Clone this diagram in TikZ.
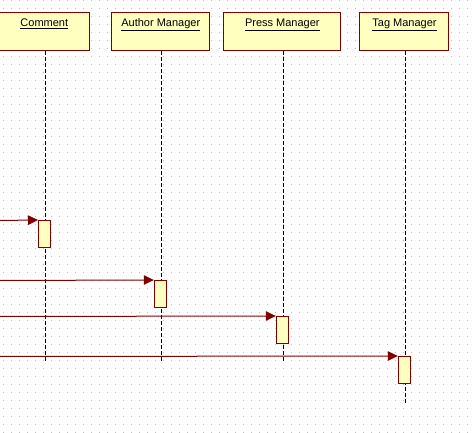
\documentclass[tikz,border=0pt]{standalone}
\usepackage{fontspec}
\setmainfont{Liberation Sans}
\usetikzlibrary{arrows.meta}
\definecolor{umlred}{RGB}{128,0,0}
\definecolor{umlfill}{RGB}{255,255,192}
\definecolor{griddot}{RGB}{192,192,192}
\begin{document}
\begin{tikzpicture}[x=1pt,y=-1pt,
  objbox/.style={draw=umlred, fill=umlfill, line width=1pt, inner sep=0pt, minimum height=38pt},
  actbox/.style={draw=umlred, fill=umlfill, line width=1pt, inner sep=0pt, minimum width=12pt, minimum height=27pt},
  objlabel/.style={font=\fontsize{11}{13}\selectfont, anchor=base, inner sep=0pt},
  lifeline/.style={black, line width=1pt, dash pattern=on 4pt off 2pt},
  msg/.style={umlred, line width=1pt, -{Triangle[length=10pt,width=9.5pt]}}]
\useasboundingbox (0,0) rectangle (475,433);
\clip (0,0) rectangle (475,433);
\fill[white] (0,0) rectangle (475,433);
\foreach \i in {0,...,58} {\foreach \j in {0,...,54} {\fill[griddot] (3+8*\i, 8*\j) rectangle ++(1,1);}}
% object boxes
\node[objbox, minimum width=91pt] (comment) at (44,31.5) {};
\node[objbox, minimum width=98pt] (author) at (160.5,31.5) {};
\node[objbox, minimum width=117pt] (press) at (282,31.5) {};
\node[objbox, minimum width=89pt] (tag) at (404,31.5) {};
\node[objlabel] (commentlbl) at (44.3,27) {\underline{Comment}};
\node[objlabel] (authorlbl) at (160.8,27) {\underline{Author Manager}};
\node[objlabel] (presslbl) at (282.3,27) {\underline{Press Manager}};
\node[objlabel] (taglbl) at (404.5,27) {\underline{Tag Manager}};
% lifeline ends
\coordinate (cend) at (45.5,361);
\coordinate (aend) at (161.5,361);
\coordinate (pend) at (283.5,361);
\coordinate (tend) at (405.5,403);
\draw[lifeline] (comment.south -| cend) -- (cend);
\draw[lifeline] (author.south -| aend) -- (aend);
\draw[lifeline] (press.south -| pend) -- (pend);
\draw[lifeline] (tag.south -| tend) -- (tend);
% activations
\node[actbox] (cact) at (44.5,234) {};
\node[actbox] (aact) at (160.3,294) {};
\node[actbox] (pact) at (282.3,330) {};
\node[actbox] (tact) at (404.3,370) {};
% message free ends
\coordinate (m1) at (-2,220.5);
\coordinate (m2) at (-2,280.5);
\coordinate (m3) at (-2,316.5);
\coordinate (m4) at (-2,356.5);
\draw[msg] (m1) -- (cact.north west);
\draw[msg] (m2) -- (aact.north west);
\draw[msg] (m3) -- (pact.north west);
\draw[msg] (m4) -- (tact.north west);
\end{tikzpicture}
\end{document}
